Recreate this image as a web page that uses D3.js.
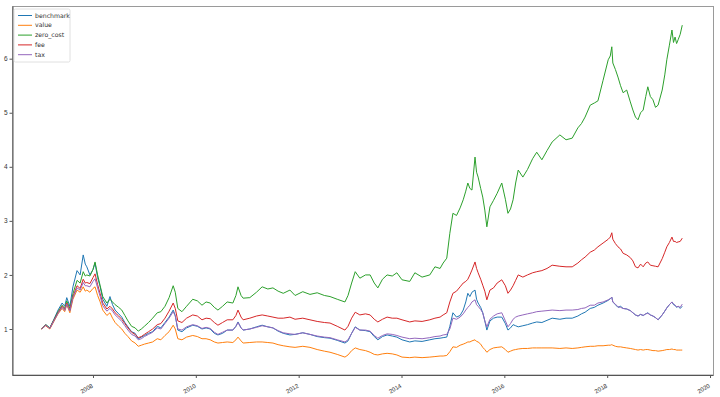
<!DOCTYPE html>
<html>
<head>
<meta charset="utf-8">
<script src="https://cdn.jsdelivr.net/npm/d3@7"></script>
<style>
  html, body { margin: 0; padding: 0; background: #fff; }
  svg { display: block; font-family: "DejaVu Sans", sans-serif; }
</style>
</head>
<body>
<svg id="chart" width="720" height="397"></svg>
<script>
// ---- data (decimal years) ----
const dates = [
2007.00,2007.08,2007.16,2007.24,2007.32,2007.40,2007.45,2007.49,2007.55,2007.61,2007.69,2007.75,2007.81,2007.85,2007.88,2007.94,
2008.00,2008.04,2008.09,2008.14,2008.19,2008.27,2008.33,2008.38,2008.43,2008.50,2008.56,2008.62,2008.68,2008.75,2008.82,2008.88,2008.94,
2009.00,2009.08,2009.16,2009.25,2009.32,2009.40,2009.48,2009.56,2009.60,2009.65,2009.73,2009.82,2009.94,
2010.03,2010.12,2010.20,2010.28,2010.36,2010.43,2010.52,2010.61,2010.72,2010.78,2010.82,2010.88,2010.92,
2011.05,2011.18,2011.29,2011.40,2011.50,2011.60,2011.70,2011.83,2011.93,
2012.08,2012.22,2012.36,2012.50,2012.61,2012.75,2012.90,2012.96,
2013.03,2013.10,2013.19,2013.30,2013.39,2013.47,2013.54,2013.63,2013.72,2013.82,2013.91,
2014.01,2014.16,2014.26,2014.40,2014.55,2014.65,2014.75,2014.81,2014.88,2014.94,
2015.00,2015.07,2015.14,2015.20,2015.25,2015.29,2015.33,2015.37,2015.43,2015.46,2015.49,2015.54,2015.58,2015.62,2015.66,2015.72,2015.79,2015.86,2015.95,
2016.02,2016.07,2016.12,2016.17,2016.22,2016.27,2016.36,2016.45,2016.55,2016.63,2016.73,2016.83,2016.93,
2017.08,2017.20,2017.32,2017.43,2017.50,2017.57,2017.67,2017.75,2017.82,2017.92,
2018.02,2018.06,2018.09,2018.11,2018.16,2018.21,2018.26,2018.31,2018.38,2018.45,2018.50,2018.55,2018.60,2018.65,2018.70,2018.75,2018.79,2018.84,2018.89,2018.94,2018.99,
2019.07,2019.12,2019.16,2019.21,2019.26,2019.29,2019.32,2019.35,2019.38,2019.42,2019.46
];

const benchmark = [
1.00,1.08,1.02,1.18,1.35,1.48,1.42,1.58,1.42,1.78,2.08,2.00,2.37,2.20,2.15,2.00,
2.10,2.22,1.95,1.78,1.55,1.42,1.60,1.45,1.35,1.28,1.22,1.12,1.04,0.95,0.92,0.82,0.85,
0.88,0.92,0.95,1.05,1.02,1.12,1.22,1.35,1.25,0.98,0.95,1.02,1.07,
1.05,1.00,1.02,1.00,0.92,0.89,0.92,0.98,0.98,1.05,1.13,1.02,0.98,
1.00,1.04,1.07,1.04,1.02,0.96,0.92,0.89,0.90,
0.93,0.90,0.86,0.84,0.83,0.79,0.74,0.78,
0.92,1.04,0.98,0.97,0.95,0.86,0.80,0.86,0.89,0.87,0.85,
0.80,0.76,0.78,0.77,0.80,0.82,0.83,0.84,0.85,1.05,
1.30,1.22,1.25,1.35,1.50,1.66,1.60,1.68,1.72,1.55,1.48,1.40,1.30,1.15,0.98,1.15,1.20,1.22,1.22,
1.10,0.98,1.02,1.08,1.06,1.04,1.06,1.08,1.11,1.13,1.12,1.16,1.20,
1.18,1.20,1.20,1.24,1.28,1.31,1.38,1.40,1.44,1.48,
1.53,1.56,1.59,1.50,1.45,1.40,1.42,1.38,1.37,1.34,1.30,1.26,1.24,1.27,1.25,1.28,1.30,1.26,1.24,1.21,1.17,
1.26,1.33,1.39,1.45,1.50,1.45,1.44,1.40,1.42,1.38,1.42
];

const value = [
1.00,1.06,1.00,1.14,1.28,1.38,1.32,1.45,1.30,1.55,1.72,1.68,1.78,1.70,1.72,1.68,
1.75,1.78,1.62,1.50,1.35,1.25,1.30,1.20,1.12,1.05,1.00,0.92,0.86,0.78,0.74,0.68,0.70,
0.72,0.74,0.76,0.82,0.80,0.88,0.95,1.07,1.00,0.82,0.80,0.85,0.88,
0.86,0.82,0.82,0.80,0.76,0.74,0.75,0.76,0.75,0.80,0.85,0.78,0.74,
0.75,0.76,0.76,0.75,0.74,0.71,0.69,0.67,0.66,
0.68,0.66,0.62,0.59,0.57,0.53,0.48,0.52,
0.60,0.65,0.62,0.60,0.57,0.53,0.52,0.54,0.55,0.54,0.52,
0.48,0.47,0.48,0.47,0.48,0.49,0.50,0.50,0.51,0.58,
0.67,0.66,0.70,0.72,0.74,0.76,0.76,0.78,0.80,0.77,0.76,0.72,0.66,0.62,0.57,0.62,0.65,0.66,0.67,
0.62,0.57,0.59,0.61,0.62,0.63,0.64,0.64,0.65,0.65,0.65,0.65,0.65,
0.64,0.65,0.64,0.65,0.66,0.67,0.68,0.68,0.69,0.69,
0.70,0.70,0.71,0.70,0.68,0.67,0.67,0.66,0.65,0.64,0.63,0.62,0.61,0.62,0.61,0.62,0.62,0.61,0.60,0.60,0.59,
0.60,0.61,0.62,0.62,0.63,0.62,0.62,0.61,0.61,0.61,0.61
];

const zeroCost = [
1.00,1.08,1.02,1.17,1.32,1.44,1.38,1.52,1.38,1.65,1.90,1.85,2.06,1.98,2.00,1.98,
2.10,2.24,2.00,1.80,1.60,1.48,1.55,1.50,1.45,1.40,1.35,1.25,1.15,1.05,1.02,0.96,1.00,
1.05,1.12,1.20,1.30,1.32,1.42,1.58,1.80,1.68,1.38,1.32,1.42,1.55,
1.52,1.44,1.50,1.48,1.40,1.35,1.42,1.50,1.48,1.62,1.78,1.62,1.57,
1.58,1.68,1.78,1.74,1.76,1.70,1.66,1.72,1.62,
1.69,1.64,1.67,1.62,1.60,1.55,1.50,1.62,
1.85,2.06,1.94,2.00,2.00,1.85,1.76,1.92,2.00,1.98,2.04,
1.91,1.88,2.04,1.96,2.00,2.15,2.12,2.22,2.31,2.77,
3.14,3.10,3.24,3.39,3.55,3.70,3.60,3.57,4.18,3.90,3.81,3.60,3.44,3.20,2.89,3.26,3.38,3.51,3.70,
3.40,3.14,3.22,3.39,3.70,3.94,3.81,3.95,4.15,4.27,4.13,4.30,4.46,
4.59,4.50,4.53,4.72,4.80,4.92,5.14,5.18,5.22,5.60,
5.98,6.05,6.22,5.92,5.80,5.66,5.50,5.37,5.42,5.20,5.05,4.92,4.87,5.00,5.05,5.30,5.48,5.30,5.24,5.10,5.14,
5.42,5.70,5.98,6.25,6.53,6.30,6.40,6.28,6.35,6.45,6.62
];

const fee = [
1.00,1.07,1.01,1.16,1.30,1.42,1.36,1.48,1.35,1.60,1.80,1.75,1.92,1.85,1.86,1.84,
1.95,2.02,1.82,1.65,1.48,1.37,1.42,1.37,1.30,1.24,1.18,1.10,1.02,0.94,0.90,0.84,0.86,
0.90,0.95,1.00,1.08,1.10,1.20,1.33,1.48,1.38,1.15,1.12,1.20,1.26,
1.24,1.17,1.20,1.19,1.12,1.07,1.12,1.17,1.17,1.25,1.35,1.22,1.17,
1.20,1.24,1.26,1.24,1.22,1.20,1.20,1.22,1.18,
1.20,1.17,1.14,1.12,1.11,1.05,0.98,1.05,
1.20,1.31,1.26,1.28,1.26,1.18,1.13,1.18,1.22,1.20,1.20,
1.17,1.13,1.15,1.14,1.17,1.20,1.22,1.26,1.30,1.50,
1.66,1.70,1.78,1.85,1.88,1.92,2.00,2.09,2.24,2.12,2.04,1.92,1.81,1.70,1.54,1.72,1.76,1.85,1.91,
1.80,1.66,1.72,1.80,1.90,2.00,1.96,2.00,2.04,2.06,2.08,2.12,2.18,
2.16,2.15,2.15,2.22,2.28,2.33,2.42,2.46,2.52,2.59,
2.66,2.70,2.78,2.66,2.58,2.52,2.48,2.40,2.37,2.32,2.26,2.15,2.13,2.20,2.15,2.22,2.24,2.18,2.17,2.16,2.15,
2.30,2.42,2.52,2.60,2.70,2.62,2.62,2.60,2.61,2.62,2.68
];

const tax = [
1.00,1.07,1.01,1.15,1.29,1.40,1.34,1.46,1.33,1.58,1.76,1.72,1.86,1.80,1.80,1.78,
1.88,1.93,1.76,1.60,1.43,1.33,1.38,1.33,1.26,1.20,1.14,1.06,0.98,0.90,0.87,0.80,0.82,
0.86,0.90,0.94,1.02,1.00,1.10,1.20,1.32,1.24,1.00,0.98,1.04,1.08,
1.06,1.01,1.03,1.01,0.94,0.90,0.94,0.98,0.98,1.05,1.12,1.02,0.98,
1.00,1.03,1.06,1.04,1.02,0.97,0.93,0.91,0.90,
0.93,0.90,0.87,0.85,0.84,0.80,0.76,0.80,
0.92,1.03,0.98,0.98,0.96,0.88,0.83,0.88,0.91,0.90,0.88,
0.85,0.82,0.83,0.82,0.84,0.86,0.87,0.89,0.90,1.00,
1.20,1.18,1.22,1.28,1.35,1.40,1.44,1.50,1.54,1.45,1.42,1.36,1.30,1.15,1.04,1.18,1.24,1.28,1.30,
1.15,1.04,1.10,1.18,1.22,1.24,1.26,1.28,1.30,1.32,1.33,1.34,1.35,
1.34,1.35,1.35,1.36,1.38,1.39,1.44,1.44,1.48,1.50,
1.54,1.56,1.59,1.50,1.46,1.41,1.40,1.38,1.37,1.34,1.30,1.26,1.24,1.27,1.25,1.28,1.29,1.26,1.24,1.21,1.17,
1.26,1.33,1.39,1.45,1.50,1.46,1.44,1.41,1.42,1.40,1.46
];

const seriesNames = ["benchmark", "value", "zero_cost", "fee", "tax"];
const seriesValues = [benchmark, value, zeroCost, fee, tax];
const seriesColors = ["#1f77b4", "#ff7f0e", "#2ca02c", "#d62728", "#9467bd"];
const xTickLabels = [2008, 2010, 2012, 2014, 2016, 2018, 2020];
const yTickLabels = [1, 2, 3, 4, 5, 6];

// ---- layout ----
const svg = d3.select("#chart");
const L = 12, R = 713, T = 6.5, B = 375;

const x = d3.scaleLinear().domain([2006.425, 2020.058]).range([L, R]);
const y = d3.scaleLinear().domain([0.149, 6.956]).range([B, 7]);

// frame
svg.append("rect")
  .attr("x", L + 0.5).attr("y", T)
  .attr("width", R - L).attr("height", B - T)
  .attr("fill", "none").attr("stroke", "#9a9a9a").attr("stroke-width", 1);

// series lines
const line = d3.line()
  .x(d => x(d[0]))
  .y(d => y(d[1]));

seriesValues.forEach((vals, i) => {
  const pts = dates.map((t, k) => [t, vals[k]]);
  svg.append("path")
    .datum(pts)
    .attr("d", line)
    .attr("fill", "none")
    .attr("stroke", seriesColors[i])
    .attr("stroke-width", 1)
    .attr("stroke-linejoin", "round");
});

// axes
const xAxis = d3.axisBottom(x)
  .tickValues(xTickLabels)
  .tickFormat(d3.format("d"))
  .tickSize(3).tickPadding(2);
const gx = svg.append("g").attr("transform", `translate(0,${B})`).call(xAxis);
gx.select(".domain").attr("stroke", "#555").attr("d", `M${L + 0.5},0.5H${R + 0.5}`);
gx.selectAll(".tick line").attr("stroke", "#555");
gx.selectAll(".tick text")
  .attr("font-size", 6)
  .attr("fill", "#333")
  .attr("text-anchor", "end")
  .attr("dy", null)
  .attr("y", 0)
  .attr("transform", "translate(0,12) rotate(-30)");

const yAxis = d3.axisLeft(y)
  .tickValues(yTickLabels)
  .tickFormat(d3.format("d"))
  .tickSize(3).tickPadding(2);
const gy = svg.append("g").attr("transform", `translate(${L + 0.5},0)`).call(yAxis);
gy.select(".domain").attr("stroke", "#555").attr("d", `M0.5,${T}V${B + 0.5}`);
gy.selectAll(".tick line").attr("stroke", "#555");
gy.selectAll(".tick text").attr("font-size", 6.5).attr("fill", "#333");

// legend
const lg = svg.append("g").attr("transform", "translate(14,9)");
lg.append("rect")
  .attr("x", 0).attr("y", 0).attr("width", 56).attr("height", 53)
  .attr("rx", 1.5)
  .attr("fill", "#fff").attr("fill-opacity", 0.85)
  .attr("stroke", "#d8d8d8").attr("stroke-width", 0.8);
seriesNames.forEach((name, i) => {
  const yy = 6.5 + i * 9.8;
  lg.append("line")
    .attr("x1", 4).attr("x2", 18)
    .attr("y1", yy).attr("y2", yy)
    .attr("stroke", seriesColors[i]).attr("stroke-width", 1);
  lg.append("text")
    .attr("x", 21).attr("y", yy)
    .attr("dy", "0.35em")
    .attr("font-size", 6.2)
    .attr("fill", "#333")
    .text(name);
});
</script>
</body>
</html>
